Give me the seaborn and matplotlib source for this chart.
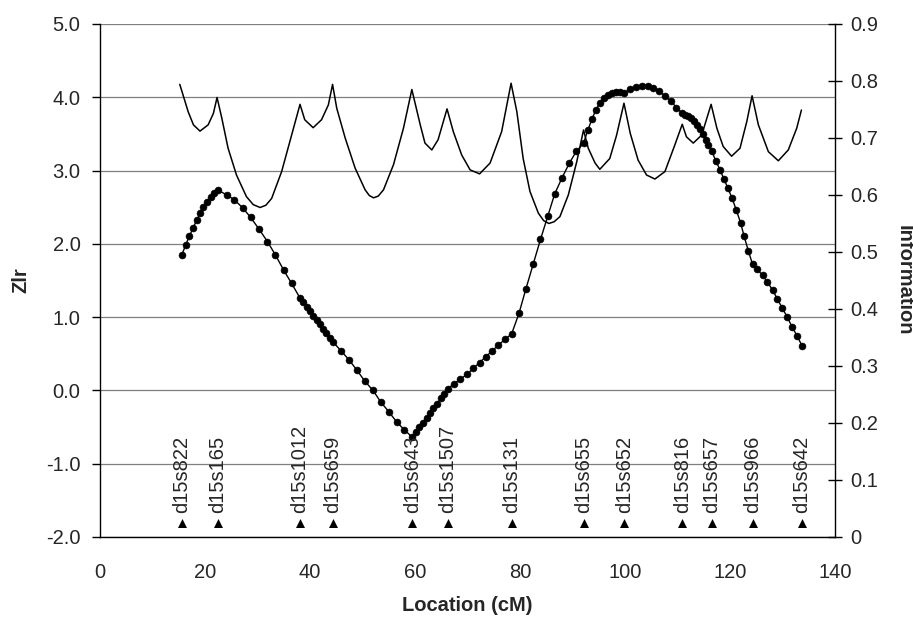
import matplotlib
matplotlib.use("Agg")
import matplotlib.pyplot as plt
import seaborn as sns
import pandas as pd

# ---------------- data ----------------
marker_names = ["d15s822", "d15s165", "d15s1012", "d15s659", "d15s643", "d15s1507",
                "d15s131", "d15s655", "d15s652", "d15s816", "d15s657", "d15s966", "d15s642"]
marker_pos = [15.6, 22.5, 38.1, 44.4, 59.5, 66.2, 78.4, 92.1, 99.9, 110.9, 116.5, 124.3, 133.7]

zlr_x = [15.6, 16.3, 17.0, 17.7, 18.4, 19.1, 19.7, 20.4, 21.1, 21.8, 22.5,
         24.1, 25.6, 27.2, 28.7, 30.3, 31.9, 33.4, 35.0, 36.5, 38.1,
         38.7, 39.4, 40.0, 40.6, 41.3, 41.9, 42.5, 43.1, 43.8, 44.4,
         45.9, 47.4, 48.9, 50.4, 52.0, 53.5, 55.0, 56.5, 58.0, 59.5,
         60.2, 60.8, 61.5, 62.2, 62.9, 63.5, 64.2, 64.9, 65.5, 66.2,
         67.4, 68.6, 69.9, 71.1, 72.3, 73.5, 74.7, 75.9, 77.2, 78.4,
         79.8, 81.1, 82.5, 83.9, 85.3, 86.6, 88.0, 89.4, 90.7, 92.1,
         92.9, 93.7, 94.4, 95.2, 96.0, 96.8, 97.6, 98.3, 99.1, 99.9,
         101.0, 102.1, 103.2, 104.3, 105.4, 106.5, 107.6, 108.7, 109.8, 110.9,
         111.5, 112.0, 112.6, 113.1, 113.7, 114.3, 114.8, 115.4, 115.9, 116.5,
         117.3, 118.1, 118.8, 119.6, 120.4, 121.2, 122.0, 122.7, 123.5, 124.3,
         125.2, 126.2, 127.1, 128.1, 129.0, 129.9, 130.9, 131.8, 132.8, 133.7]
zlr_y = [1.85, 1.98, 2.10, 2.21, 2.32, 2.42, 2.50, 2.57, 2.64, 2.69, 2.73,
         2.67, 2.60, 2.49, 2.36, 2.20, 2.03, 1.85, 1.64, 1.46, 1.26,
         1.20, 1.14, 1.08, 1.02, 0.96, 0.90, 0.84, 0.78, 0.72, 0.66,
         0.54, 0.42, 0.28, 0.13, 0.00, -0.16, -0.29, -0.43, -0.54, -0.64,
         -0.57, -0.50, -0.44, -0.37, -0.31, -0.24, -0.18, -0.11, -0.05, 0.02,
         0.09, 0.15, 0.22, 0.30, 0.38, 0.46, 0.54, 0.62, 0.70, 0.77,
         1.05, 1.38, 1.72, 2.06, 2.38, 2.68, 2.90, 3.10, 3.26, 3.37,
         3.55, 3.70, 3.82, 3.92, 3.99, 4.03, 4.06, 4.07, 4.07, 4.06,
         4.11, 4.14, 4.16, 4.15, 4.12, 4.08, 4.02, 3.95, 3.86, 3.78,
         3.76, 3.74, 3.71, 3.67, 3.62, 3.56, 3.50, 3.42, 3.35, 3.27,
         3.13, 3.01, 2.89, 2.76, 2.62, 2.46, 2.29, 2.10, 1.90, 1.72,
         1.65, 1.57, 1.48, 1.37, 1.25, 1.13, 1.00, 0.87, 0.74, 0.61]

info_x = [15.2, 16.8, 17.8, 19.05, 20.6, 21.6, 22.3, 23.2, 24.4, 26.0, 27.9, 29.2, 30.5, 31.6,
          32.7, 34.6, 36.5, 38.1, 39.0, 40.6, 42.2, 43.5, 44.3, 45.1, 46.7, 48.6,
          50.5, 51.3, 52.1, 53.0, 54.0, 55.9, 57.8, 59.4, 61.0, 61.9, 63.2, 64.4, 66.1, 67.3,
          68.9, 70.5, 72.3, 74.3, 76.5, 78.3, 79.4, 80.6, 81.9, 83.5, 84.5, 85.5, 86.5, 87.6,
          89.2, 90.8, 92.1, 93.0, 94.3, 95.2, 97.1, 98.4, 99.8, 101.0, 102.5, 104.1,
          105.7, 107.6, 109.5, 110.9, 111.7, 113.0, 114.6, 116.4, 117.5, 118.7, 120.3,
          121.9, 123.2, 124.2, 125.4, 127.3, 129.2, 131.1, 132.7, 133.6]
info_y = [0.794, 0.746, 0.723, 0.712, 0.723, 0.743, 0.771, 0.735, 0.682, 0.635, 0.597, 0.583, 0.578, 0.582,
          0.594, 0.641, 0.705, 0.759, 0.732, 0.718, 0.732, 0.758, 0.794, 0.752, 0.700, 0.647,
          0.609, 0.599, 0.595, 0.598, 0.609, 0.653, 0.717, 0.785, 0.723, 0.691, 0.679, 0.697, 0.751, 0.711,
          0.670, 0.644, 0.637, 0.656, 0.711, 0.796, 0.746, 0.664, 0.606, 0.568, 0.555, 0.550, 0.553, 0.562,
          0.600, 0.658, 0.714, 0.682, 0.656, 0.645, 0.664, 0.705, 0.761, 0.708, 0.661, 0.635,
          0.628, 0.641, 0.688, 0.724, 0.702, 0.691, 0.705, 0.759, 0.717, 0.685, 0.668,
          0.682, 0.729, 0.774, 0.723, 0.676, 0.660, 0.679, 0.717, 0.749]

left_ticks = [-2, -1, 0, 1, 2, 3, 4, 5]
right_ticks = [0, 0.1, 0.2, 0.3, 0.4, 0.5, 0.6, 0.7, 0.8, 0.9]
right_ticklabels = ["0", "0.1", "0.2", "0.3", "0.4", "0.5", "0.6", "0.7", "0.8", "0.9"]
x_ticks = [0, 20, 40, 60, 80, 100, 120, 140]

# ---------------- style ----------------
sns.set_style("white")
plt.rcParams["font.family"] = ["Liberation Sans", "DejaVu Sans"]
plt.rcParams["axes.unicode_minus"] = False

fig = plt.figure(figsize=(9.13, 6.19), dpi=100)
ax = fig.add_axes([0.1095, 0.1325, 0.8051, 0.8288])

zdf = pd.DataFrame({"Location": zlr_x, "Zlr": zlr_y})
idf = pd.DataFrame({"Location": info_x, "Information": info_y})

sns.lineplot(data=zdf, x="Location", y="Zlr", ax=ax, color="black", lw=1.0,
             marker="o", markersize=5, markeredgecolor="black", markeredgewidth=0.4,
             estimator=None, sort=False, zorder=3)

ax.set_xlim(0, 140)
ax.set_ylim(-2, 5)
ax.set_xticks(x_ticks)
ax.set_yticks(left_ticks)
ax.set_yticklabels([f"{v:.1f}" for v in left_ticks])
ax.yaxis.grid(True, color="#7f7f7f", lw=0.9)
ax.xaxis.grid(False)
ax.set_axisbelow(True)

for s in ["top", "right"]:
    ax.spines[s].set_visible(False)
for s in ["left", "bottom"]:
    ax.spines[s].set_color("black")
    ax.spines[s].set_linewidth(1.0)

ax.tick_params(axis="y", direction="out", length=6, width=1, labelsize=14.5, pad=8, color="black")
ax.tick_params(axis="x", direction="out", length=6, width=1, labelsize=14.5, pad=13, color="black")

# marker triangles and names
trans = ax.get_xaxis_transform()
ax.scatter(marker_pos, [0.027] * len(marker_pos), marker="^", s=42, color="black",
           transform=trans, zorder=4, linewidths=0)
for name, p in zip(marker_names, marker_pos):
    ax.text(p, 0.046, name, rotation=90, ha="center", va="bottom", fontsize=14.5,
            transform=trans, zorder=4)

ax.set_xlabel("Location (cM)", fontsize=14.5, fontweight="bold", va="center")
ax.xaxis.set_label_coords(0.5, -0.133)
ax.set_ylabel("Zlr", fontsize=14.5, fontweight="bold", va="center", ha="center")
ax.yaxis.set_label_coords(-0.1075, 0.5)

# right axis
ax2 = ax.twinx()
sns.lineplot(data=idf, x="Location", y="Information", ax=ax2, color="black", lw=1.1,
             estimator=None, sort=False)
ax2.set_ylim(0, 0.9)
ax2.set_yticks(right_ticks)
ax2.set_yticklabels(right_ticklabels)
ax2.grid(False)
for s in ["top", "left", "bottom"]:
    ax2.spines[s].set_visible(False)
ax2.spines["right"].set_color("black")
ax2.spines["right"].set_linewidth(1.0)
ax2.tick_params(axis="y", direction="inout", length=10, width=1, labelsize=14.5, pad=6, color="black")
ax2.set_ylabel("Information", fontsize=14.5, fontweight="bold", rotation=270,
               va="center", ha="center")
ax2.yaxis.set_label_coords(1.094, 0.5)
ax2.set_xlabel("")
ax.set_xlim(0, 140)

fig.savefig("out.png", dpi=100)
